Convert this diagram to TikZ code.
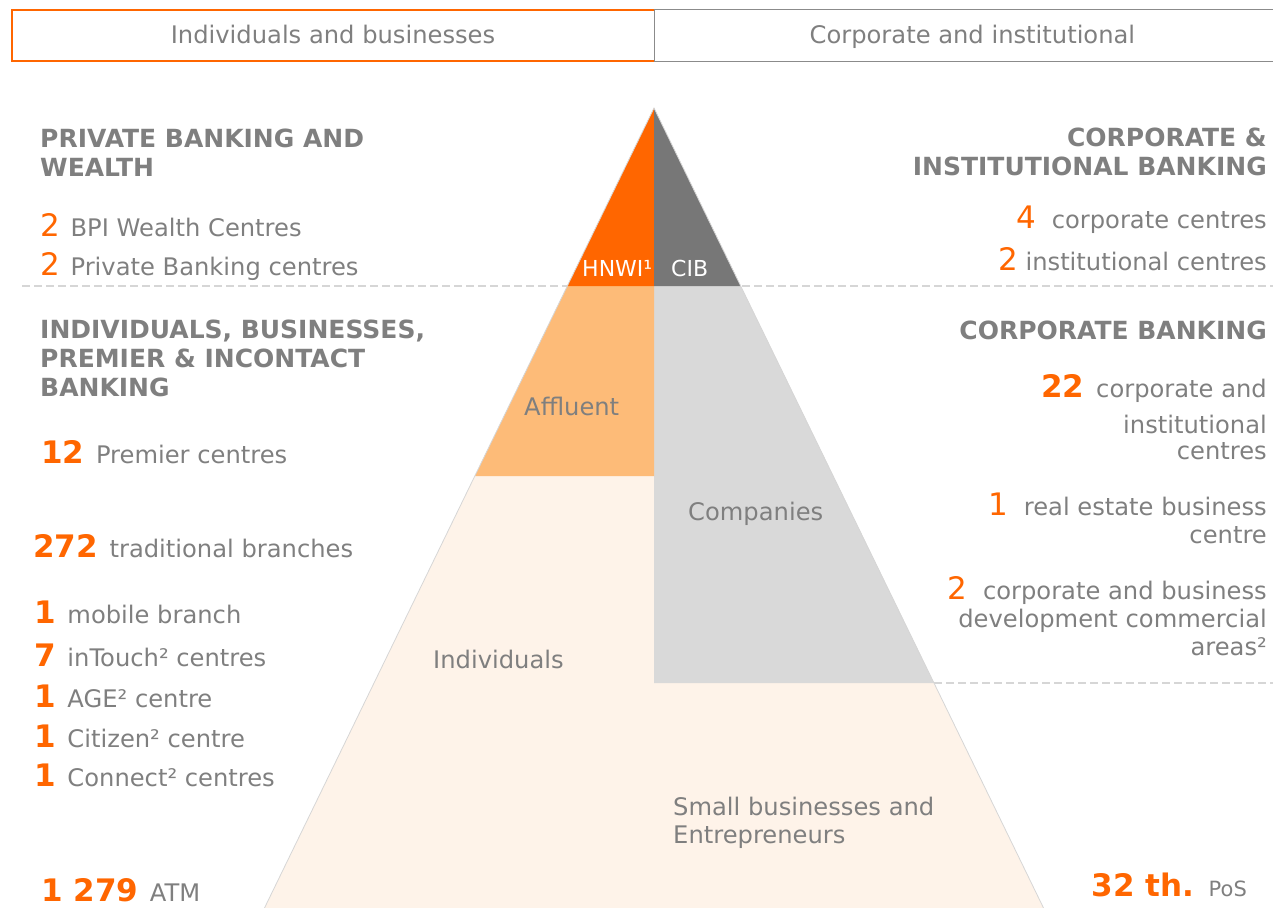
\documentclass[tikz,border=0pt]{standalone}
\usepackage{fontspec}
\setmainfont{DejaVu Sans}
\usepackage{tikz}
\usetikzlibrary{positioning}

\definecolor{bpiorange}{RGB}{255,102,0}
\definecolor{bpigray}{RGB}{127,127,127}
\definecolor{cibgray}{RGB}{119,119,119}
\definecolor{affluent}{RGB}{253,187,120}
\definecolor{companies}{RGB}{217,217,217}
\definecolor{cream}{RGB}{254,243,233}
\definecolor{rulegray}{RGB}{214,214,214}

\newcommand{\bignum}[1]{{\fontsize{31}{31}\selectfont\bfseries\color{bpiorange}#1}\hspace{4pt}}
\newcommand{\regnum}[1]{{\fontsize{31}{31}\selectfont\color{bpiorange}#1}}

\begin{document}
\begin{tikzpicture}[
    x=1pt, y=-1pt,
    txt/.style={inner sep=0, text=bpigray, font=\fontsize{24.2}{28}\selectfont},
    head/.style={txt, font=\fontsize{25}{29}\selectfont\bfseries},
    lab/.style={txt, anchor=base west, align=left},
    rlab/.style={txt, anchor=base east, align=right},
    hdr/.style={txt, minimum height=51, text height=17, text depth=0},
    white/.style={lab, text=white, font=\fontsize{22}{22}\selectfont}
]
    \useasboundingbox (0,0) rectangle (1273,907);

    % header tabs
    \node[hdr, minimum width=642] (hdrleft) at (333,35.5) {Individuals and businesses};
    \node[hdr, minimum width=636, right=0pt of hdrleft] (hdrright) {Corporate and institutional};
    \draw[cibgray!85, line width=1.3pt] (hdrright.south east) -- (hdrright.south west) -- (hdrright.north west) -- (hdrright.north east);
    \draw[bpiorange, line width=1.5pt] (hdrleft.north east) -- (hdrleft.north west) -- (hdrleft.south west) -- (hdrleft.south east);

    % dashed separators
    \draw[rulegray, line width=1.5pt, dash pattern=on 8pt off 4pt] (22,286) -- (1273,286);
    \draw[rulegray, line width=1.5pt, dash pattern=on 8pt off 4pt] (934,683) -- (1273,683);

    % pyramid
    \coordinate (apex) at (654,108);
    \coordinate (bl) at (263.5,910);
    \coordinate (br) at (1044.5,910);
    \fill[cream] (apex) -- (bl) -- (br) -- cycle;
    \fill[companies] (654,286) -- (740.7,286) -- (934,683) -- (654,683) -- cycle;
    \fill[affluent] (567.3,286) -- (654,286) -- (654,476) -- (474.8,476) -- cycle;
    \fill[bpiorange] (apex) -- (654,286) -- (567.3,286) -- cycle;
    \fill[cibgray] (apex) -- (740.7,286) -- (654,286) -- cycle;
    \draw[rulegray, line width=0.8pt] (bl) -- (apex) -- (br);

    \node[white] (hnwi) at (582,276) {HNWI¹};
    \node[white] (cib) at (671,276) {CIB};
    \node[lab] (affl) at (524,415) {Affluent};
    \node[lab] (comp) at (688,520) {Companies};
    \node[lab] (indiv) at (433,668) {Individuals};
    \node[lab] (small) at (673,843) {Small businesses and\\Entrepreneurs};

    % left column
    \node[head, anchor=base west, align=left] (pbw) at (40,176) {PRIVATE BANKING AND\\WEALTH};
    \node[lab] (bwc) at (40,236) {\regnum{2}\hspace{3pt} BPI Wealth Centres};
    \node[lab] (pbc) at (40,275) {\regnum{2}\hspace{3pt} Private Banking centres};
    \node[head, anchor=base west, align=left] (ibp) at (40,396) {INDIVIDUALS, BUSINESSES,\\PREMIER \& INCONTACT\\BANKING};
    \node[lab] (prem) at (41,463) {\bignum{12} Premier centres};
    \node[lab] (trad) at (33,557) {\bignum{272} traditional branches};
    \node[lab] (mob) at (34,623) {\bignum{1} mobile branch};
    \node[lab] (intouch) at (34,666) {\bignum{7} inTouch² centres};
    \node[lab] (age) at (34,707) {\bignum{1} AGE² centre};
    \node[lab] (citizen) at (34,747) {\bignum{1} Citizen² centre};
    \node[lab] (connect) at (34,786) {\bignum{1} Connect² centres};
    \node[lab] (atm) at (41,901) {\bignum{1 279} ATM};

    % right column
    \node[head, anchor=base east, align=right] (cibhead) at (1267,175) {CORPORATE \&\\INSTITUTIONAL BANKING};
    \node[rlab] (corpc) at (1267,228) {\regnum{4}\ \ corporate centres};
    \node[rlab] (instc) at (1267,270) {\regnum{2} institutional centres};
    \node[head, anchor=base east] (cbhead) at (1267,339) {CORPORATE BANKING};
    \node[rlab, font=\fontsize{24.2}{26}\selectfont] (cic) at (1267,459) {\bignum{22} corporate and\\[10pt]institutional\\centres};
    \node[rlab] (reb) at (1267,543) {\regnum{1}\ \ real estate business\\centre};
    \node[rlab] (cbd) at (1267,655) {\regnum{2}\ \ corporate and business\\development commercial\\areas²};
    \node[rlab] (pos) at (1247,896) {\bignum{32 th.} {\fontsize{21}{21}\selectfont PoS}};
\end{tikzpicture}
\end{document}
